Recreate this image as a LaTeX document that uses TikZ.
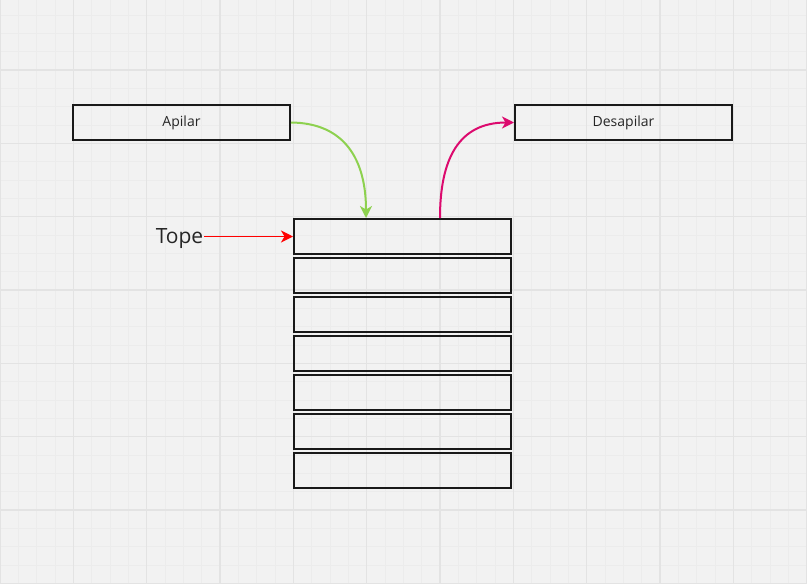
\documentclass[tikz,border=0pt]{standalone}
\usepackage{fontspec}
\setmainfont{Open Sans}
\usetikzlibrary{arrows.meta}
\definecolor{paper}{HTML}{F2F2F2}
\definecolor{gridmajor}{HTML}{E3E3E3}
\definecolor{gridminor}{HTML}{ECECEC}
\definecolor{pushgreen}{HTML}{8DD14F}
\definecolor{popmagenta}{HTML}{DC0A6E}
\begin{document}
\begin{tikzpicture}
    [
        x=1pt, y=-1pt,
        box/.style={draw=black!90, line width=2pt, minimum width=217pt, minimum height=35pt, inner sep=0pt, font=\fontsize{14}{16}\selectfont, text=black!85},
        cell/.style={draw=black!90, line width=2pt, minimum width=217pt, minimum height=35pt, inner sep=0pt},
        link/.style={line width=2pt, -{Stealth[length=12pt, width=12pt, inset=3.5pt]}},
    ]
  % Background
  \useasboundingbox (0,0) rectangle (807,584);
  \fill [paper] (0,0) rectangle (807,584);
  \foreach \i in {0,...,44} {
    \draw [gridminor, line width=0.7pt] (\i*18.33,0) -- (\i*18.33,584);
  }
  \foreach \j in {0,...,32} {
    \draw [gridminor, line width=0.7pt] (0,\j*18.33-3.3) -- (807,\j*18.33-3.3);
  }
  \foreach \i in {0,...,11} {
    \draw [gridmajor, line width=1.2pt] (\i*73.33,0) -- (\i*73.33,584);
  }
  \foreach \j in {1,...,8} {
    \draw [gridmajor, line width=1.2pt] (0,\j*73.33-3.3) -- (807,\j*73.33-3.3);
  }

  % Nodes
  \node [box] (ap) at (181.5,122.5) {Apilar};
  \node [box] (des) at (623.5,122.5) {Desapilar};
  \foreach \k in {1,...,7} {
    \node [cell] (c\k) at (402.5,197.5+\k*39) {};
  }
  \node [font=\fontsize{21}{24}\selectfont, text=black!85, inner sep=1pt] (T) at (179.5,238.5) {Tope};

  % Connections
  \draw [link, pushgreen] (ap.east) .. controls (345,123) and (366,160) .. ([xshift=-36.5]c1.north);
  \draw [link, popmagenta] ([xshift=37.5]c1.north) .. controls (440,160) and (458,122.5) .. (des.west);
  \draw [link, red, line width=1.6pt] (T.east |- c1.west) -- (c1.west);
\end{tikzpicture}
\end{document}
